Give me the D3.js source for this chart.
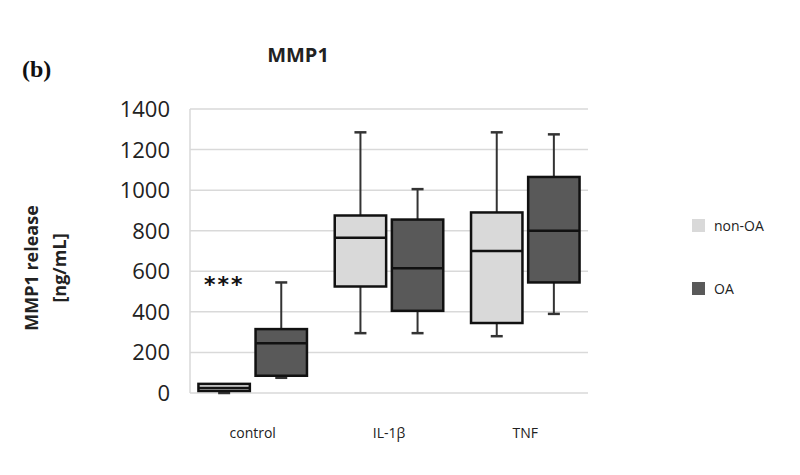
<!DOCTYPE html>
<html><head><meta charset="utf-8">
<script src="https://cdn.jsdelivr.net/npm/d3@7"></script>
<style>body{margin:0;background:#fff}</style>
</head><body>
<svg id="chart" width="800" height="475"></svg>
<script>
const categories = ['control', 'IL-1β', 'TNF'];
const groups = ['non-OA', 'OA'];
const groupColors = ['#d9d9d9', '#595959'];
// [min, q1, median, q3, max] per category, per group
const nonOA = [[0, 10, 25, 45, 0], [295, 525, 765, 875, 1285], [280, 345, 700, 890, 1285]];
const oa = [[75, 85, 245, 315, 545], [295, 405, 615, 855, 1005], [390, 545, 800, 1065, 1275]];
const yTicks = [0, 200, 400, 600, 800, 1000, 1200, 1400];

const svg = d3.select('#chart');
const plotLeft = 190, plotRight = 588, plotTop = 109, plotBottom = 393;

const y = d3.scaleLinear().domain([0, 1400]).range([plotBottom, plotTop]);
const x = d3.scaleBand().domain(categories).range([plotLeft, plotRight]).paddingInner(0.12).paddingOuter(0.02);
const xg = d3.scaleBand().domain(groups).range([0, x.bandwidth()]).paddingInner(0.1).paddingOuter(0.1);

svg.append('g').selectAll('line').data(yTicks).join('line')
    .attr('x1', plotLeft).attr('x2', plotRight)
    .attr('y1', d => y(d)).attr('y2', d => y(d))
    .attr('stroke', '#d9d9d9').attr('stroke-width', 1.5);
svg.append('line').attr('x1', plotLeft).attr('x2', plotLeft).attr('y1', plotTop).attr('y2', plotBottom)
    .attr('stroke', '#d9d9d9').attr('stroke-width', 1.5);

svg.append('g').selectAll('text').data(yTicks).join('text')
    .attr('x', plotLeft - 20).attr('y', d => y(d) + 8)
    .attr('text-anchor', 'end').attr('font-family', 'Open Sans, sans-serif')
    .attr('font-size', 22).attr('fill', '#222').text(d => d);

svg.append('g').selectAll('text').data(categories).join('text')
    .attr('x', d => x(d) + x.bandwidth() / 2).attr('y', 438)
    .attr('text-anchor', 'middle').attr('font-family', 'Open Sans, sans-serif')
    .attr('font-size', 14).attr('fill', '#222').text(d => d);

const series = [nonOA, oa];
series.forEach((data, gi) => {
    const g = svg.append('g');
    data.forEach((s, ci) => {
        const x0 = x(categories[ci]) + xg(groups[gi]);
        const w = xg.bandwidth();
        const cx = x0 + w / 2;
        const [mn, q1, md, q3, mx] = s;
        if (mx > q3) {
            g.append('line').attr('x1', cx).attr('x2', cx).attr('y1', y(q3)).attr('y2', y(mx)).attr('stroke', '#333').attr('stroke-width', 2);
            g.append('line').attr('x1', cx - 6).attr('x2', cx + 6).attr('y1', y(mx)).attr('y2', y(mx)).attr('stroke', '#333').attr('stroke-width', 2.5);
        }
        g.append('line').attr('x1', cx).attr('x2', cx).attr('y1', y(q1)).attr('y2', y(mn)).attr('stroke', '#333').attr('stroke-width', 2);
        g.append('line').attr('x1', cx - 6).attr('x2', cx + 6).attr('y1', y(mn)).attr('y2', y(mn)).attr('stroke', '#333').attr('stroke-width', 2.5);
        g.append('rect').attr('x', x0).attr('width', w)
            .attr('y', y(q3)).attr('height', y(q1) - y(q3))
            .attr('fill', groupColors[gi]).attr('stroke', '#111').attr('stroke-width', 2.5);
        g.append('line').attr('x1', x0).attr('x2', x0 + w).attr('y1', y(md)).attr('y2', y(md)).attr('stroke', '#111').attr('stroke-width', 2.5);
    });
});

svg.append('text').attr('x', x('control') + xg('non-OA') + xg.bandwidth() / 2).attr('y', y(545) + 10)
    .attr('text-anchor', 'middle').attr('font-family', 'DejaVu Sans, sans-serif')
    .attr('font-size', 22).attr('font-weight', 'bold').attr('letter-spacing', 2).attr('fill', '#111').text('***');

svg.append('text').attr('x', 298).attr('y', 62).attr('text-anchor', 'middle')
    .attr('font-family', 'Open Sans, sans-serif').attr('font-weight', 'bold')
    .attr('font-size', 20).attr('fill', '#222').text('MMP1');
svg.append('text').attr('x', 22).attr('y', 77)
    .attr('font-family', 'Liberation Serif, serif').attr('font-weight', 'bold')
    .attr('font-size', 24).attr('fill', '#111').text('(b)');

const yl = svg.append('text').attr('transform', 'translate(38,268) rotate(-90)')
    .attr('text-anchor', 'middle').attr('font-family', 'Open Sans, sans-serif')
    .attr('font-weight', 'bold').attr('font-size', 18).attr('fill', '#222');
yl.append('tspan').attr('x', 0).attr('dy', 0).text('MMP1 release');
yl.append('tspan').attr('x', 0).attr('dy', 28).text('[ng/mL]');

const lg = svg.append('g').selectAll('g').data(groups).join('g')
    .attr('transform', (d, i) => `translate(692,${219 + i * 63})`);
lg.append('rect').attr('width', 13).attr('height', 13).attr('fill', (d, i) => groupColors[i]);
lg.append('text').attr('x', 22).attr('y', 12).attr('font-family', 'Open Sans, sans-serif')
    .attr('font-size', 14).attr('fill', '#222').text(d => d);
</script>
</body></html>
